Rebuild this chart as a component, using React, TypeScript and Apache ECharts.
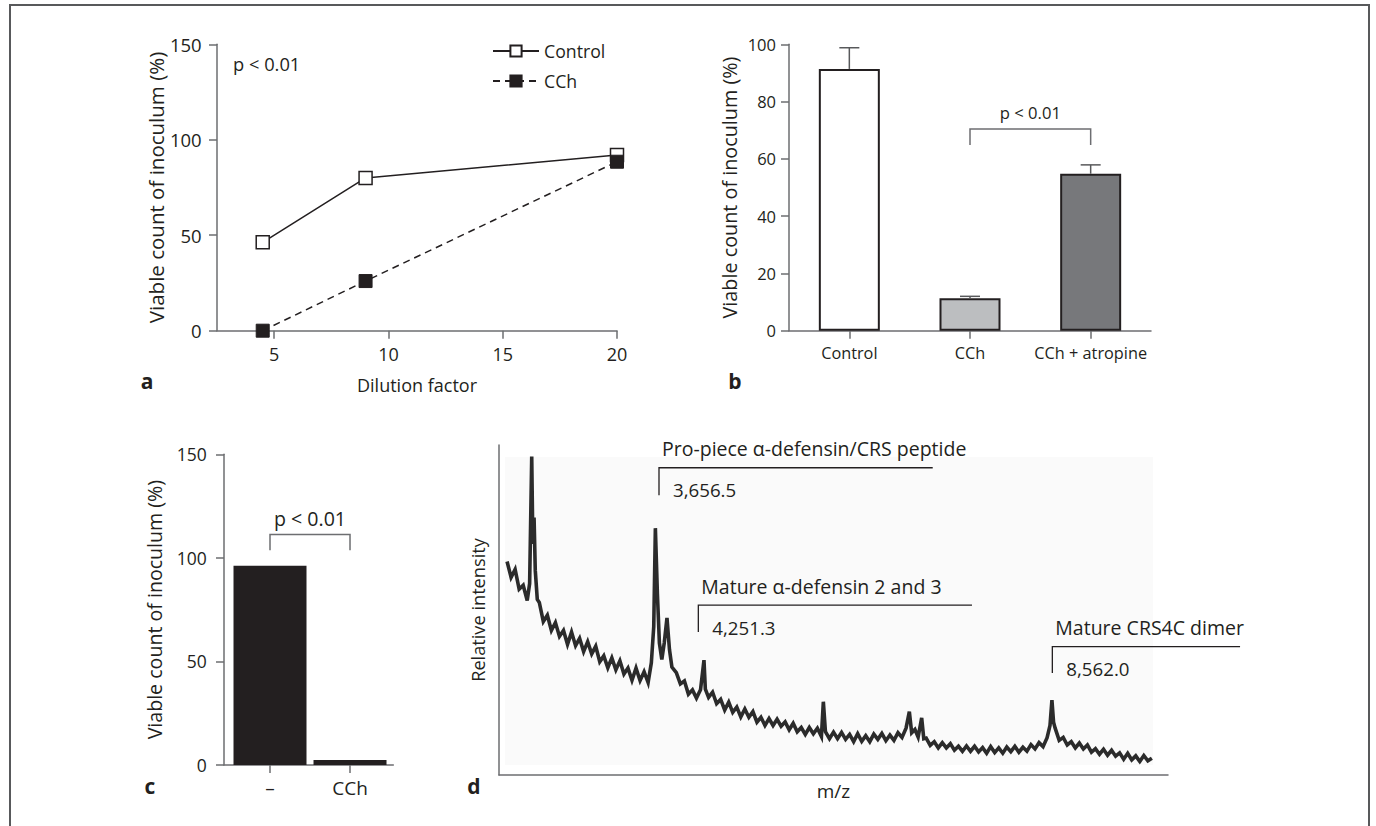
import React, { useEffect, useRef } from 'react';
import * as echarts from 'echarts';

const FONT = "'Open Sans', sans-serif";
const INK = '#231f20';
const AXIS = '#6d6e71';

// ---- Panel a ----
const dilutionA = [4.5, 9, 20];
const controlA = [46.3, 80, 92];
const cchA = [0, 26, 88.5];
const ticksA = [5, 10, 15, 20];
const seriesNamesA = ['Control', 'CCh'];

// ---- Panel b ----
const catsB = ['Control', 'CCh', 'CCh + atropine'];
const meanB = [91.4, 11.3, 54.8];
const errB = [7.4, 0.7, 3.1];
const colorsB = ['#ffffff', '#bcbec0', '#77787b'];
const bracketB = [1, 2, 70.4, 64.8];

// ---- Panel c ----
const catsC = ['\u2013', 'CCh'];
const valsC = [96.2, 2.4];
const bracketC = [0, 1, 111.3, 103.7];

// ---- Panel d ----
const spectrumD: [number, number][] = [
  [1800, 64.7], [1850, 59.9], [1900, 62.3], [1950, 56.3], [2000, 57.5], [2050, 52.9], [2080, 58], [2106, 96.5],
  [2120, 70], [2135, 78], [2150, 62], [2175, 53.2], [2200, 52.3], [2250, 46.5], [2300, 48.4], [2350, 43.8],
  [2400, 46.2], [2450, 42], [2500, 43.8], [2550, 39.6], [2600, 43.3], [2650, 39.2], [2700, 41.4], [2750, 37.4],
  [2800, 40.4], [2850, 36.7], [2900, 39], [2950, 34.3], [3000, 36.1], [3050, 32.5], [3100, 35.5], [3150, 31.9],
  [3200, 34.6], [3250, 30.6], [3300, 32.4], [3350, 28.7], [3400, 32.4], [3450, 28.6], [3500, 31.3], [3550, 28],
  [3590, 34], [3620, 45], [3640, 74.8], [3665, 55], [3690, 40], [3720, 35], [3750, 40], [3784, 47.6],
  [3815, 38], [3845, 32.7], [3900, 31], [3950, 27.6], [4000, 28.5], [4050, 24.5], [4100, 25.8], [4150, 23.3],
  [4200, 25.8], [4243, 34.8], [4260, 26], [4300, 23.5], [4350, 25.1], [4400, 21.6], [4450, 22.9], [4500, 19.7],
  [4550, 22.1], [4600, 19], [4650, 20.6], [4700, 17.6], [4750, 20], [4800, 17.5], [4850, 19.2], [4900, 16],
  [4950, 17.5], [5000, 15], [5050, 17.1], [5100, 15], [5150, 16.9], [5200, 14.8], [5250, 16.1], [5300, 13.7],
  [5350, 15.7], [5400, 13.1], [5450, 14.4], [5500, 12.3], [5550, 14.4], [5600, 12.5], [5650, 14.2], [5700, 11.7],
  [5724, 22.2], [5750, 13.1], [5800, 11], [5850, 13], [5900, 11], [5950, 12.9], [6000, 10.8], [6050, 12.3],
  [6100, 10.1], [6150, 12.5], [6200, 10.2], [6250, 11.9], [6300, 10.1], [6350, 12.4], [6400, 10.8], [6450, 12.6],
  [6500, 10.4], [6550, 12.1], [6600, 10.5], [6650, 12.8], [6700, 11.4], [6750, 14.2], [6791, 19.2], [6820, 12.8],
  [6860, 13.8], [6900, 11.5], [6944, 17.3], [6970, 11], [7000, 11.2], [7050, 9], [7100, 10.1], [7150, 8.2],
  [7200, 9.8], [7250, 8.2], [7300, 9.5], [7350, 7.5], [7400, 8.7], [7450, 7.2], [7500, 8.8], [7550, 7.2],
  [7600, 8.7], [7650, 7], [7700, 8.3], [7750, 6.6], [7800, 8.6], [7850, 6.8], [7900, 8.2], [7950, 6.6],
  [8000, 8.5], [8050, 7.1], [8100, 8.7], [8150, 6.9], [8200, 8.4], [8250, 7.2], [8300, 9.2], [8350, 7.9],
  [8400, 9.8], [8450, 8.6], [8500, 11.3], [8536, 15], [8560, 22.7], [8580, 16], [8600, 14.2], [8650, 10.5],
  [8700, 11.4], [8750, 9.1], [8800, 10.1], [8850, 8.2], [8900, 9.7], [8950, 7.9], [9000, 9.1], [9050, 6.9],
  [9100, 8], [9150, 6.3], [9200, 7.8], [9250, 6], [9300, 7.5], [9350, 5.7], [9400, 6.7], [9450, 4.8],
  [9500, 6.6], [9550, 4.6], [9600, 5.8], [9650, 4.1], [9700, 5.9], [9750, 4.3], [9800, 5.1],
];
const peakLabelsD = ['Pro-piece \u03b1-defensin/CRS peptide', 'Mature \u03b1-defensin 2 and 3', 'Mature CRS4C dimer'];
const peakMassesD = ['3,656.5', '4,251.3', '8,562.0'];
// [mz start, mz end, bracket top, leg bottom]
const bracketsD = [
  [3685, 7081, 93.1, 84.8],
  [4173, 7568, 51.5, 43.3],
  [8565, 10894, 38.9, 30.9],
];
const bgAreaD = [[1774, 3], [9814, 96.4]];

const YNAME = 'Viable count of inoculum (%)';

function axisLineStyle() {
  return { show: true, onZero: false, lineStyle: { color: AXIS, width: 1.5 } };
}

function bracketRender(fontSize: number, textOffset: number) {
  return (params: any, api: any) => {
    const a = api.coord([api.value(0), api.value(2)]);
    const b = api.coord([api.value(1), api.value(2)]);
    const aLeg = api.coord([api.value(0), api.value(3)]);
    const bLeg = api.coord([api.value(1), api.value(3)]);
    return {
      type: 'group',
      children: [
        {
          type: 'polyline',
          shape: { points: [aLeg, a, b, bLeg] },
          style: { stroke: AXIS, lineWidth: 1.5, fill: 'none' },
        },
        {
          type: 'text',
          x: (a[0] + b[0]) / 2,
          y: a[1] - textOffset,
          style: {
            text: 'p < 0.01',
            fill: INK,
            fontSize,
            fontFamily: FONT,
            align: 'center',
            verticalAlign: 'middle',
            textAlign: 'center',
            textVerticalAlign: 'middle',
          },
        },
      ],
    };
  };
}

export default function App() {
  const ref = useRef<HTMLDivElement>(null);
  useEffect(() => {
    if (!ref.current) return;
    const chart = echarts.init(ref.current, undefined, { renderer: 'svg' });

    const panelLabel = (t: string, x: number, y: number) => ({
      type: 'text',
      x,
      y,
      style: {
        text: t,
        fill: INK,
        fontSize: 21,
        fontWeight: 'bold',
        fontFamily: FONT,
        align: 'center',
        verticalAlign: 'middle',
        textAlign: 'center',
        textVerticalAlign: 'middle',
      },
    });

    const option: any = {
      animation: false,
      backgroundColor: '#ffffff',
      textStyle: { fontFamily: FONT, color: INK },
      grid: [
        { left: 217, top: 44.3, width: 400, height: 286.4 },
        { left: 789, top: 44.3, width: 362, height: 286.4 },
        { left: 224, top: 454.3, width: 169.3, height: 310.7 },
        { left: 499, top: 445, width: 669, height: 330 },
      ],
      legend: {
        data: seriesNamesA,
        orient: 'vertical',
        left: 487,
        top: 37,
        itemWidth: 46,
        itemHeight: 14,
        itemGap: 12,
        textStyle: { fontSize: 17.7, fontFamily: FONT, color: INK },
      },
      xAxis: [
        {
          type: 'value',
          gridIndex: 0,
          min: 2.5,
          max: 20,
          axisLine: axisLineStyle(),
          axisTick: { show: true, customValues: ticksA, length: 8, lineStyle: { color: AXIS, width: 1.5 } },
          axisLabel: { customValues: ticksA, fontSize: 18, color: INK, margin: 14, fontFamily: FONT },
          splitLine: { show: false },
          name: 'Dilution factor',
          nameLocation: 'middle',
          nameGap: 45,
          nameTextStyle: { fontSize: 18, color: INK, fontFamily: FONT },
        },
        {
          type: 'category',
          gridIndex: 1,
          data: catsB,
          axisLine: axisLineStyle(),
          axisTick: { show: true, alignWithLabel: true, length: 8, lineStyle: { color: AXIS, width: 1.5 } },
          axisLabel: { interval: 0, fontSize: 16.3, color: INK, margin: 14, fontFamily: FONT },
        },
        {
          type: 'value',
          gridIndex: 2,
          min: -0.575,
          max: 1.541,
          axisLine: axisLineStyle(),
          axisTick: { show: true, customValues: [0, 1], length: 8, lineStyle: { color: AXIS, width: 1.5 } },
          axisLabel: {
            customValues: [0, 1],
            formatter: (v: number) => catsC[Math.round(v)] ?? '',
            fontSize: 19,
            color: INK,
            margin: 13.5,
            fontFamily: FONT,
          },
          splitLine: { show: false },
        },
        {
          type: 'value',
          gridIndex: 3,
          min: 1700,
          max: 10000,
          axisLine: axisLineStyle(),
          axisTick: { show: false },
          axisLabel: { show: false },
          splitLine: { show: false },
          name: 'm/z',
          nameLocation: 'middle',
          nameGap: 6,
          nameTextStyle: { fontSize: 19, color: INK, fontFamily: FONT },
        },
      ],
      yAxis: [
        {
          type: 'value',
          gridIndex: 0,
          min: 0,
          max: 150,
          interval: 50,
          axisLine: axisLineStyle(),
          axisTick: { show: true, length: 8, lineStyle: { color: AXIS, width: 1.5 } },
          axisLabel: { fontSize: 18.5, color: INK, margin: 15.3, fontFamily: FONT },
          splitLine: { show: false },
          name: YNAME,
          nameLocation: 'middle',
          nameGap: 49,
          nameTextStyle: { fontSize: 20.5, color: INK, fontFamily: FONT },
        },
        {
          type: 'value',
          gridIndex: 1,
          min: 0,
          max: 100,
          interval: 20,
          axisLine: axisLineStyle(),
          axisTick: { show: true, length: 8, lineStyle: { color: AXIS, width: 1.5 } },
          axisLabel: { fontSize: 16.5, color: INK, margin: 13, fontFamily: FONT },
          splitLine: { show: false },
          name: YNAME,
          nameLocation: 'middle',
          nameGap: 50,
          nameTextStyle: { fontSize: 19.8, color: INK, fontFamily: FONT },
        },
        {
          type: 'value',
          gridIndex: 2,
          min: 0,
          max: 150,
          interval: 50,
          axisLine: axisLineStyle(),
          axisTick: { show: true, length: 8, lineStyle: { color: AXIS, width: 1.5 } },
          axisLabel: { fontSize: 17.5, color: INK, margin: 17.3, fontFamily: FONT },
          splitLine: { show: false },
          name: YNAME,
          nameLocation: 'middle',
          nameGap: 60,
          nameTextStyle: { fontSize: 19.6, color: INK, fontFamily: FONT },
        },
        {
          type: 'value',
          gridIndex: 3,
          min: 0,
          max: 100,
          axisLine: axisLineStyle(),
          axisTick: { show: false },
          axisLabel: { show: false },
          splitLine: { show: false },
          name: 'Relative intensity',
          nameLocation: 'middle',
          nameGap: 12,
          nameTextStyle: { fontSize: 18.2, color: INK, fontFamily: FONT },
        },
      ],
      series: [
        {
          name: seriesNamesA[0],
          type: 'line',
          xAxisIndex: 0,
          yAxisIndex: 0,
          data: dilutionA.map((x, i) => [x, controlA[i]]),
          symbol: 'rect',
          symbolSize: 13,
          lineStyle: { color: INK, width: 1.5 },
          itemStyle: { color: '#ffffff', borderColor: INK, borderWidth: 1.5 },
          z: 3,
        },
        {
          name: seriesNamesA[1],
          type: 'line',
          xAxisIndex: 0,
          yAxisIndex: 0,
          data: dilutionA.map((x, i) => [x, cchA[i]]),
          symbol: 'rect',
          symbolSize: 13,
          lineStyle: { color: INK, width: 1.5, type: [7, 5] },
          itemStyle: { color: INK, borderColor: INK, borderWidth: 1 },
          z: 3,
        },
        {
          type: 'bar',
          xAxisIndex: 1,
          yAxisIndex: 1,
          barWidth: 61,
          data: meanB.map((v, i) => ({ value: v, itemStyle: { color: colorsB[i] } })),
          itemStyle: { borderColor: INK, borderWidth: 2 },
        },
        {
          type: 'custom',
          xAxisIndex: 1,
          yAxisIndex: 1,
          data: meanB.map((v, i) => [i, v, v + errB[i]]),
          encode: { x: 0, y: [1, 2] },
          z: 4,
          renderItem: (params: any, api: any) => {
            const base = api.coord([api.value(0), api.value(1)]);
            const top = api.coord([api.value(0), api.value(2)]);
            const st = { stroke: '#58595b', lineWidth: 1.5 };
            return {
              type: 'group',
              children: [
                { type: 'line', shape: { x1: base[0], y1: base[1], x2: top[0], y2: top[1] }, style: st },
                { type: 'line', shape: { x1: top[0] - 10, y1: top[1], x2: top[0] + 10, y2: top[1] }, style: st },
              ],
            };
          },
        },
        {
          type: 'custom',
          xAxisIndex: 1,
          yAxisIndex: 1,
          data: [bracketB],
          encode: { x: [0, 1], y: [2, 3] },
          renderItem: bracketRender(16.6, 17),
        },
        {
          type: 'bar',
          xAxisIndex: 2,
          yAxisIndex: 2,
          barWidth: 73,
          data: valsC.map((v, i) => [i, v]),
          itemStyle: { color: INK },
        },
        {
          type: 'custom',
          xAxisIndex: 2,
          yAxisIndex: 2,
          data: [bracketC],
          encode: { x: [0, 1], y: [2, 3] },
          renderItem: bracketRender(19.6, 16),
        },
        {
          type: 'line',
          xAxisIndex: 3,
          yAxisIndex: 3,
          data: spectrumD,
          showSymbol: false,
          symbol: 'none',
          lineStyle: { color: '#2b2b2b', width: 3.6, join: 'miter' },
          z: 3,
          markArea: {
            silent: true,
            itemStyle: { color: '#fafafa' },
            data: [[{ coord: bgAreaD[0] }, { coord: bgAreaD[1] }]],
          },
        },
        {
          type: 'custom',
          xAxisIndex: 3,
          yAxisIndex: 3,
          data: bracketsD.map((b, i) => [...b, i]),
          encode: { x: [0, 1], y: [2, 3] },
          clip: false,
          z: 4,
          renderItem: (params: any, api: any) => {
            const idx = api.value(4);
            const a = api.coord([api.value(0), api.value(2)]);
            const b = api.coord([api.value(1), api.value(2)]);
            const leg = api.coord([api.value(0), api.value(3)]);
            return {
              type: 'group',
              children: [
                {
                  type: 'polyline',
                  shape: { points: [leg, a, b] },
                  style: { stroke: INK, lineWidth: 1.3, fill: 'none' },
                },
                {
                  type: 'text',
                  x: a[0] + 3,
                  y: a[1] - 19,
                  style: {
                    text: peakLabelsD[idx],
                    fill: INK,
                    fontSize: 19.5,
                    fontFamily: FONT,
                    align: 'left',
                    verticalAlign: 'middle',
                    textAlign: 'left',
                    textVerticalAlign: 'middle',
                  },
                },
                {
                  type: 'text',
                  x: a[0] + 14,
                  y: a[1] + 22,
                  style: {
                    text: peakMassesD[idx],
                    fill: INK,
                    fontSize: 18.7,
                    fontFamily: FONT,
                    align: 'left',
                    verticalAlign: 'middle',
                    textAlign: 'left',
                    textVerticalAlign: 'middle',
                  },
                },
              ],
            };
          },
        },
      ],
      graphic: [
        {
          type: 'rect',
          shape: { x: 10, y: 5, width: 1359, height: 860 },
          style: { fill: 'none', stroke: '#58595b', lineWidth: 2 },
          silent: true,
        },
        {
          type: 'text',
          x: 233,
          y: 63,
          style: {
            text: 'p < 0.01',
            fill: INK,
            fontSize: 18.3,
            fontFamily: FONT,
            align: 'left',
            verticalAlign: 'middle',
            textAlign: 'left',
            textVerticalAlign: 'middle',
          },
        },
        panelLabel('a', 147, 381),
        panelLabel('b', 735, 381),
        panelLabel('c', 150, 785.5),
        panelLabel('d', 474, 785.5),
      ],
    };

    chart.setOption(option);
    return () => chart.dispose();
  }, []);

  return (
    <div
      ref={ref}
      style={{ position: 'absolute', left: 0, top: 0, width: 1376, height: 826, background: '#fff' }}
    />
  );
}
